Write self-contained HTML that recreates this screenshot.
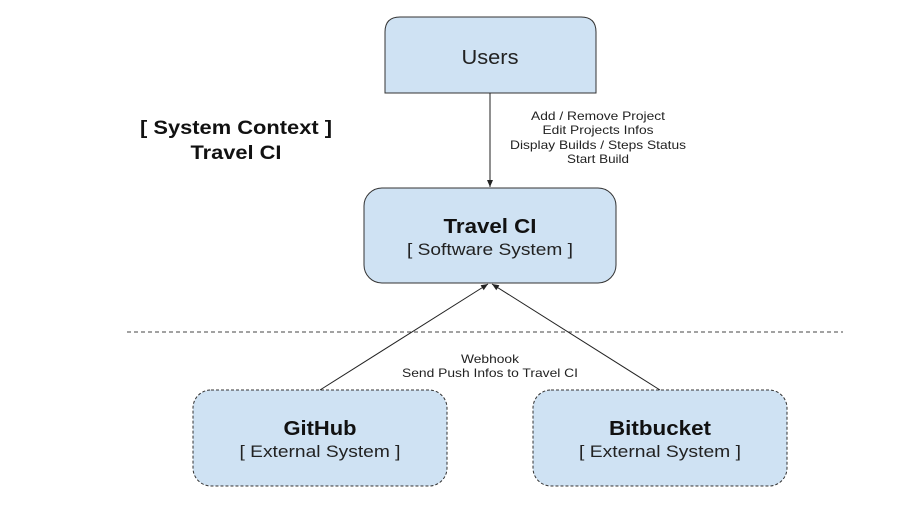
<!DOCTYPE html>
<html><head><style>body{margin:0;background:#fff}</style></head><body>
<svg width="900" height="510" viewBox="0 0 900 510" xmlns="http://www.w3.org/2000/svg" font-family="Liberation Sans, Arial, sans-serif">
<defs><marker id="a" markerWidth="8" markerHeight="8" refX="7" refY="4" orient="auto" markerUnits="userSpaceOnUse"><path d="M0,1 L7,4 L0,7 z" fill="#222"/></marker></defs>
<path d="M400,17 H581 Q596,17 596,32 V93 H385 V32 Q385,17 400,17 Z" fill="#cfe2f3" stroke="#333" stroke-width="1"/>
<text x="490" y="64" font-size="20" text-anchor="middle" fill="#222" textLength="57" lengthAdjust="spacingAndGlyphs">Users</text>
<rect x="364" y="188" width="252" height="95" rx="18" fill="#cfe2f3" stroke="#333"/>
<text x="490" y="233" font-size="20" font-weight="bold" text-anchor="middle" fill="#111" textLength="93" lengthAdjust="spacingAndGlyphs">Travel CI</text>
<text x="490" y="255" font-size="17" text-anchor="middle" fill="#222" textLength="166" lengthAdjust="spacingAndGlyphs">[ Software System ]</text>
<line x1="490" y1="93" x2="490" y2="187" stroke="#222" marker-end="url(#a)"/>
<g font-size="12" text-anchor="middle" fill="#222">
<text x="598" y="120" textLength="134" lengthAdjust="spacingAndGlyphs">Add / Remove Project</text>
<text x="598" y="134" textLength="111" lengthAdjust="spacingAndGlyphs">Edit Projects Infos</text>
<text x="598" y="149" textLength="176" lengthAdjust="spacingAndGlyphs">Display Builds / Steps Status</text>
<text x="598" y="163" textLength="62" lengthAdjust="spacingAndGlyphs">Start Build</text>
<text x="490" y="363" textLength="58" lengthAdjust="spacingAndGlyphs">Webhook</text>
<text x="490" y="377" textLength="176" lengthAdjust="spacingAndGlyphs">Send Push Infos to Travel CI</text>
</g>
<g font-size="19" font-weight="bold" text-anchor="middle" fill="#111">
<text x="236" y="134" textLength="192" lengthAdjust="spacingAndGlyphs">[ System Context ]</text>
<text x="236" y="159" textLength="91" lengthAdjust="spacingAndGlyphs">Travel CI</text>
</g>
<line x1="127" y1="332" x2="843" y2="332" stroke="#444" stroke-dasharray="4,3"/>
<rect x="193" y="390" width="254" height="96" rx="18" fill="#cfe2f3" stroke="#333" stroke-dasharray="3,2"/>
<rect x="533" y="390" width="254" height="96" rx="18" fill="#cfe2f3" stroke="#333" stroke-dasharray="3,2"/>
<text x="320" y="435" font-size="20" font-weight="bold" text-anchor="middle" fill="#111" textLength="73" lengthAdjust="spacingAndGlyphs">GitHub</text>
<text x="320" y="457" font-size="17" text-anchor="middle" fill="#222" textLength="161" lengthAdjust="spacingAndGlyphs">[ External System ]</text>
<text x="660" y="435" font-size="20" font-weight="bold" text-anchor="middle" fill="#111" textLength="102" lengthAdjust="spacingAndGlyphs">Bitbucket</text>
<text x="660" y="457" font-size="17" text-anchor="middle" fill="#222" textLength="162" lengthAdjust="spacingAndGlyphs">[ External System ]</text>
<line x1="320" y1="390" x2="488" y2="284" stroke="#222" marker-end="url(#a)"/>
<line x1="660" y1="390" x2="492" y2="284" stroke="#222" marker-end="url(#a)"/>
</svg>
</body></html>
